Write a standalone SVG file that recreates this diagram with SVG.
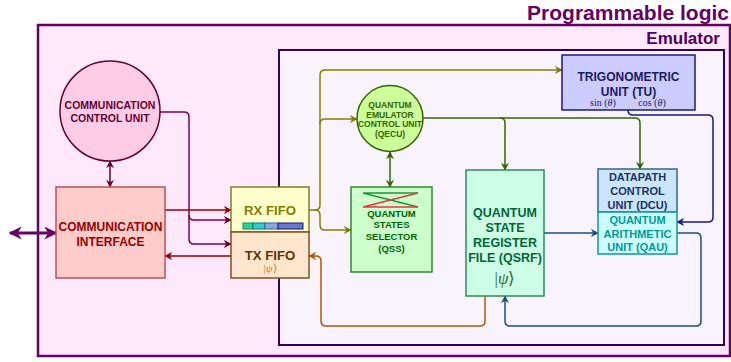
<svg xmlns="http://www.w3.org/2000/svg" width="731" height="362" viewBox="0 0 731 362">
<style>
text{font-family:"Liberation Sans",Arial,sans-serif;font-weight:bold;text-anchor:middle}
.math{font-family:"Liberation Serif","Times New Roman",serif;font-weight:normal}
.c{fill:none;stroke-width:1.5}
</style>
<defs>
<marker id="aPur" viewBox="0 0 10 10" refX="9" refY="5" markerWidth="13" markerHeight="13" orient="auto-start-reverse" markerUnits="userSpaceOnUse"><path d="M0,0 L10,5 L0,10 L3,5 z" fill="#660066"/></marker>
<marker id="aMar" viewBox="0 0 10 10" refX="9" refY="5" markerWidth="8" markerHeight="8" orient="auto-start-reverse" markerUnits="userSpaceOnUse"><path d="M0,0 L10,5 L0,10 L3,5 z" fill="#660033"/></marker>
<marker id="aRed" viewBox="0 0 10 10" refX="9" refY="5" markerWidth="8" markerHeight="8" orient="auto-start-reverse" markerUnits="userSpaceOnUse"><path d="M0,0 L10,5 L0,10 L3,5 z" fill="#990000"/></marker>
<marker id="aOli" viewBox="0 0 10 10" refX="9" refY="5" markerWidth="8" markerHeight="8" orient="auto-start-reverse" markerUnits="userSpaceOnUse"><path d="M0,0 L10,5 L0,10 L3,5 z" fill="#808000"/></marker>
<marker id="aGrn" viewBox="0 0 10 10" refX="9" refY="5" markerWidth="8" markerHeight="8" orient="auto-start-reverse" markerUnits="userSpaceOnUse"><path d="M0,0 L10,5 L0,10 L3,5 z" fill="#336600"/></marker>
<marker id="aBlu" viewBox="0 0 10 10" refX="9" refY="5" markerWidth="8" markerHeight="8" orient="auto-start-reverse" markerUnits="userSpaceOnUse"><path d="M0,0 L10,5 L0,10 L3,5 z" fill="#1a4d80"/></marker>
<marker id="aNav" viewBox="0 0 10 10" refX="9" refY="5" markerWidth="8" markerHeight="8" orient="auto-start-reverse" markerUnits="userSpaceOnUse"><path d="M0,0 L10,5 L0,10 L3,5 z" fill="#1a1a80"/></marker>
<marker id="aBrn" viewBox="0 0 10 10" refX="9" refY="5" markerWidth="8" markerHeight="8" orient="auto-start-reverse" markerUnits="userSpaceOnUse"><path d="M0,0 L10,5 L0,10 L3,5 z" fill="#b35900"/></marker>
</defs>
<rect width="731" height="362" fill="#ffffff"/>
<g id="programmable-logic">
<rect x="38" y="25" width="692" height="331" fill="#fde8fc" stroke="#660066" stroke-width="2.5"/>
<text x="729" y="20" font-size="21" fill="#660066" style="text-anchor:end">Programmable logic</text>
</g>
<g id="emulator">
<rect x="279" y="50" width="445" height="295" fill="#f9f3fe" stroke="#33005a" stroke-width="2"/>
<text x="720" y="44" font-size="17" fill="#4d0066" style="text-anchor:end">Emulator</text>
</g>
<g id="connectors">
<path d="M10,233 L56,233" fill="none" stroke="#660066" stroke-width="3" marker-start="url(#aPur)" marker-end="url(#aPur)"/>
<path class="c" d="M110,161 L110,187" stroke="#660033" marker-start="url(#aMar)" marker-end="url(#aMar)"/>
<path class="c" d="M160,112 L184,112 Q189,112 189,117 L189,215 Q189,220 194,220 L231,220" stroke="#800050" marker-end="url(#aMar)"/>
<path class="c" d="M189,215 L189,239 Q189,244 194,244 L231,244" stroke="#800050" marker-end="url(#aMar)"/>
<path class="c" d="M165,210 L231,210" stroke="#990000" marker-end="url(#aRed)"/>
<path class="c" d="M231,256 L165,256" stroke="#990000" marker-end="url(#aRed)"/>
<path class="c" d="M309,210 L315,210 Q320,210 320,205 L320,75 Q320,70 325,70 L562,70" stroke="#808000" marker-end="url(#aOli)"/>
<path class="c" d="M320,124 Q320,119 325,119 L357,119" stroke="#808000" marker-end="url(#aOli)"/>
<path class="c" d="M315,210 Q320,210 320,215 L320,225 Q320,230 325,230 L351,230" stroke="#808000" marker-end="url(#aOli)"/>
<path class="c" d="M390,152 L390,187" stroke="#336600" marker-start="url(#aGrn)" marker-end="url(#aGrn)"/>
<path class="c" d="M423,118 L500,118 Q505,118 505,123 L505,170" stroke="#336600" marker-end="url(#aGrn)"/>
<path class="c" d="M500,118 L635,118 Q640,118 640,123 L640,169" stroke="#336600" marker-end="url(#aGrn)"/>
<path class="c" d="M544,233 L598,233" stroke="#1a4d80" marker-end="url(#aBlu)"/>
<path class="c" d="M677,233 L696,233 Q701,233 701,238 L701,321 Q701,326 696,326 L510,326 Q505,326 505,321 L505,296" stroke="#1a4d80" marker-end="url(#aBlu)"/>
<path class="c" d="M628,110 Q628,115 633,115 L708,115 Q713,115 713,120 L713,217 Q713,222 708,222 L677,222" stroke="#1a1a80" marker-end="url(#aNav)"/>
<path class="c" d="M485,296 L485,321 Q485,326 480,326 L326,326 Q321,326 321,321 L321,261 Q321,256 316,256 L309,256" stroke="#b35900" marker-end="url(#aBrn)"/>
</g>
<g id="ccu">
<circle cx="110" cy="111" r="50" fill="#ffcce6" stroke="#660033" stroke-width="1.5"/>
<text x="110" y="109" font-size="10.5" fill="#660033">COMMUNICATION</text>
<text x="110" y="122" font-size="10.5" fill="#660033">CONTROL UNIT</text>
</g>
<g id="ci">
<rect x="56" y="187" width="109" height="91" fill="#ffcccc" stroke="#b85450" stroke-width="1.5"/>
<text x="110.5" y="231" font-size="12" fill="#990000">COMMUNICATION</text>
<text x="110.5" y="246" font-size="12" fill="#990000">INTERFACE</text>
</g>
<g id="rx-fifo">
<rect x="231" y="187" width="78" height="45" fill="#ffffcc" stroke="#808020" stroke-width="1.5"/>
<text x="270" y="215" font-size="13.2" fill="#808000">RX FIFO</text>
<rect x="243" y="223" width="10" height="6" fill="#33cc99" stroke="#009966" stroke-width="1"/>
<rect x="253" y="223" width="12" height="6" fill="#33cccc" stroke="#008080" stroke-width="1"/>
<rect x="265" y="223" width="13" height="6" fill="#88aadd" stroke="#336699" stroke-width="1"/>
<rect x="278" y="223" width="25" height="6" fill="#6677cc" stroke="#1a1a80" stroke-width="1"/>
</g>
<g id="tx-fifo">
<rect x="231" y="232" width="78" height="46" fill="#ffe6cc" stroke="#805020" stroke-width="1.5"/>
<text x="270" y="260" font-size="13.2" fill="#663300">TX FIFO</text>
<text class="math" x="270" y="272" font-size="11" fill="#c08040">|<tspan font-style="italic">ψ</tspan>⟩</text>
</g>
<g id="qecu">
<circle cx="390" cy="118.5" r="33" fill="#ccff99" stroke="#336600" stroke-width="1.5"/>
<text x="390" y="108" font-size="8.5" fill="#336600">QUANTUM</text>
<text x="390" y="118" font-size="8.5" fill="#336600">EMULATOR</text>
<text x="390" y="127" font-size="8.5" fill="#336600">CONTROL UNIT</text>
<text x="390" y="137" font-size="8.5" fill="#336600">(QECU)</text>
</g>
<g id="qss">
<rect x="351" y="187" width="81" height="85" fill="#ccffcc" stroke="#2d8a2d" stroke-width="1.5"/>
<path d="M363,193 L418,193 M363,193 L418,207" stroke="#1a9933" stroke-width="1.5" fill="none"/>
<path d="M418,193 L363,207 L418,207" stroke="#ee3344" stroke-width="1.5" fill="none"/>
<text x="391.5" y="216.5" font-size="9.5" fill="#006600">QUANTUM</text>
<text x="391.5" y="227.5" font-size="9.5" fill="#006600">STATES</text>
<text x="391.5" y="240" font-size="9.5" fill="#006600">SELECTOR</text>
<text x="391.5" y="251.5" font-size="9.5" fill="#006600">(QSS)</text>
</g>
<g id="qsrf">
<rect x="466" y="170" width="78" height="126" fill="#ccffe6" stroke="#2d8a5a" stroke-width="1.5"/>
<text x="505" y="216.5" font-size="12.5" fill="#006633">QUANTUM</text>
<text x="505" y="231.5" font-size="12.5" fill="#006633">STATE</text>
<text x="505" y="246.5" font-size="12.5" fill="#006633">REGISTER</text>
<text x="505" y="261.5" font-size="12.5" fill="#006633">FILE (QSRF)</text>
<text class="math" x="505" y="284" font-size="17" fill="#336633">|<tspan font-style="italic">ψ</tspan>⟩</text>
</g>
<g id="tu">
<rect x="562" y="55" width="133" height="55" fill="#ccccff" stroke="#1a1a80" stroke-width="1.5"/>
<text x="628.5" y="80.5" font-size="12" fill="#1a1a66">TRIGONOMETRIC</text>
<text x="628.5" y="95.5" font-size="12" fill="#1a1a66">UNIT (TU)</text>
<text class="math" x="603" y="106" font-size="10" fill="#1a1a66">sin (<tspan font-style="italic">θ</tspan>)</text>
<text class="math" x="652" y="106" font-size="10" fill="#1a1a66">cos (<tspan font-style="italic">θ</tspan>)</text>
</g>
<g id="dcu">
<rect x="598" y="169" width="79" height="43" fill="#cce5ff" stroke="#36648b" stroke-width="1.5"/>
<text x="637.5" y="181" font-size="11" fill="#1a3366">DATAPATH</text>
<text x="637.5" y="195" font-size="11" fill="#1a3366">CONTROL</text>
<text x="637.5" y="209" font-size="11" fill="#1a3366">UNIT (DCU)</text>
</g>
<g id="qau">
<rect x="598" y="212" width="79" height="42" fill="#ccffff" stroke="#0e9999" stroke-width="1.5"/>
<text x="637.5" y="224" font-size="11" fill="#009999">QUANTUM</text>
<text x="637.5" y="237.5" font-size="11" fill="#009999">ARITHMETIC</text>
<text x="637.5" y="251" font-size="11" fill="#009999">UNIT (QAU)</text>
</g>
</svg>
